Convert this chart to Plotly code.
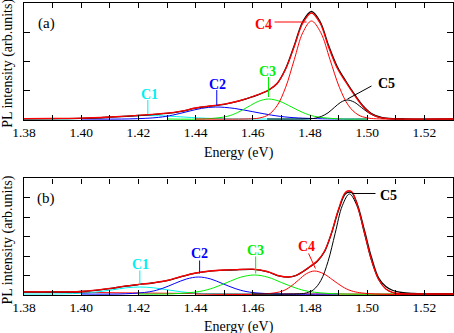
import plotly.graph_objects as go

# ---------------- data (heights in arbitrary units) ----------------
# panel (a)
E_C1_a = [1.380, 1.395, 1.405, 1.415, 1.423, 1.431, 1.441, 1.451, 1.480]
C1_a = [1.0, 1.2, 2.1, 3.8, 4.5, 3.8, 2.1, 1.2, 1.0]

E_C2_a = [1.400, 1.417, 1.427, 1.432, 1.437, 1.442, 1.447, 1.4535, 1.460, 1.4665, 1.473, 1.486, 1.500]
C2_a = [1.0, 1.1, 2.6, 4.9, 8.3, 11.6, 13.0, 11.6, 8.3, 4.9, 2.6, 1.1, 1.0]

E_C3_a = [1.430, 1.4439, 1.4511, 1.4547, 1.4583, 1.4619, 1.4655, 1.4695, 1.4735, 1.4775, 1.4815, 1.4895, 1.500]
C3_a = [1.0, 1.2, 3.7, 7.5, 13.1, 18.6, 21.0, 18.6, 13.1, 7.5, 3.7, 1.2, 1.0]

E_C4_a = [1.440, 1.4595, 1.4625, 1.4655, 1.4685, 1.4715, 1.4745, 1.4775, 1.4805,
          1.48375, 1.4870, 1.49025, 1.4935, 1.49675, 1.5000, 1.50325, 1.530]
C4_a = [1.0, 1.2, 2.1, 5.3, 14.3, 32.8, 60.4, 87.5, 99.0, 87.5, 60.4, 32.8, 14.3, 5.3, 2.1, 1.2, 1.0]

E_C5_a = [1.465, 1.4795, 1.4818, 1.484, 1.4863, 1.4885, 1.4908, 1.493, 1.4955, 1.498,
          1.5005, 1.503, 1.5055, 1.508, 1.513]
C5_a = [1.0, 1.2, 1.8, 3.6, 7.2, 12.5, 17.8, 20.0, 17.8, 12.5, 7.2, 3.6, 1.8, 1.2, 1.0]

E_tot_a = [1.380, 1.390, 1.400, 1.410, 1.420, 1.430, 1.435, 1.440, 1.445, 1.450, 1.455, 1.460,
           1.4655, 1.4685, 1.4715, 1.4745, 1.4775, 1.4805, 1.4835, 1.4865, 1.4895, 1.4925,
           1.4955, 1.4985, 1.5015, 1.505, 1.510, 1.530]
fit_a = [1.3, 1.5, 1.8, 3.0, 4.7, 6.8, 8.9, 12.0, 14.0, 15.8, 19.0, 23.5,
         30.0, 36.5, 51.0, 73.5, 97.0, 107.0, 97.0, 73.0, 52.0, 38.0,
         25.0, 13.5, 5.8, 2.1, 1.1, 1.0]
data_a = [1.2, 1.4, 1.6, 2.8, 4.5, 6.6, 8.7, 11.8, 13.8, 15.6, 18.8, 23.3,
          29.8, 36.5, 51.5, 74.5, 98.5, 108.5, 98.5, 74.5, 53.5, 39.0,
          26.0, 14.3, 6.5, 2.6, 1.3, 1.0]

# panel (b)
E_C1_b = [1.380, 1.392, 1.4015, 1.4063, 1.411, 1.4158, 1.4205, 1.4253, 1.430, 1.4348, 1.4395, 1.449, 1.470]
C1_b = [1.0, 1.08, 1.95, 3.3, 5.2, 7.2, 8.0, 7.2, 5.2, 3.3, 1.95, 1.08, 1.0]

E_C2_b = [1.400, 1.4155, 1.424, 1.4283, 1.4325, 1.4368, 1.441, 1.4453, 1.4495, 1.4538, 1.458, 1.4665, 1.490]
C2_b = [1.0, 1.2, 3.3, 6.5, 11.3, 16.0, 18.0, 16.0, 11.3, 6.5, 3.3, 1.2, 1.0]

E_C3_b = [1.420, 1.432, 1.4415, 1.4463, 1.451, 1.4558, 1.4605, 1.4653, 1.470, 1.4748, 1.4795, 1.489, 1.510]
C3_b = [1.0, 1.2, 3.6, 7.2, 12.5, 17.8, 20.0, 17.8, 12.5, 7.2, 3.6, 1.2, 1.0]

E_C4_b = [1.440, 1.465, 1.4705, 1.47325, 1.476, 1.47875, 1.4815, 1.48475, 1.488, 1.49125, 1.4945, 1.501, 1.530]
C4_b = [1.0, 1.26, 4.1, 8.5, 15.0, 21.3, 24.0, 21.3, 15.0, 8.5, 4.1, 1.26, 1.0]

E_C5_b = [1.460, 1.4763, 1.4788, 1.4813, 1.4838, 1.4863, 1.4888, 1.4913, 1.4938,
          1.4964, 1.499, 1.5016, 1.5042, 1.5068, 1.5094, 1.512, 1.530]
C5_b = [1.0, 1.22, 2.1, 5.4, 14.5, 33.5, 61.7, 89.3, 101.0, 89.3, 61.7, 33.5, 14.5, 5.4, 2.1, 1.22, 1.0]

E_bg_b = [1.380, 1.400, 1.420, 1.440, 1.460, 1.480, 1.530]
bg_b = [3.2, 2.6, 2.0, 1.5, 1.1, 1.0, 1.0]

E_tot_b = [1.380, 1.390, 1.400, 1.405, 1.410, 1.415, 1.420, 1.425, 1.430, 1.435, 1.440, 1.445,
           1.450, 1.455, 1.460, 1.465, 1.4695, 1.4725, 1.475, 1.4775, 1.480, 1.4825, 1.485,
           1.4875, 1.490, 1.4925, 1.4945, 1.4965, 1.499, 1.5015, 1.504, 1.5065, 1.509, 1.512,
           1.516, 1.520, 1.530]
fit_b = [3.2, 3.2, 3.7, 4.8, 6.6, 8.8, 10.6, 12.2, 14.5, 18.5, 22.0, 24.0,
         25.0, 25.5, 25.8, 23.5, 19.0, 18.0, 19.5, 23.5, 28.5, 34.0, 43.5,
         62.0, 86.0, 103.0, 103.5, 90.0, 63.0, 35.0, 15.5, 6.0, 2.5, 1.3,
         1.0, 1.0, 1.0]
data_b = [3.0, 3.0, 3.5, 4.6, 6.4, 8.6, 10.4, 12.0, 14.3, 18.3, 21.8, 23.8,
          24.8, 25.3, 25.6, 23.3, 18.8, 17.8, 19.3, 23.3, 28.3, 33.5, 43.0,
          61.5, 85.0, 101.5, 102.5, 91.0, 65.0, 37.5, 17.0, 8.5, 4.5, 2.5,
          1.5, 1.1, 1.0]

# ---------------- styling ----------------
CYAN, BLUE, GREEN, RED, BLACK = "#00F0F0", "#0000FF", "#00EE00", "#FF0000", "#000000"
SERIF = "Liberation Serif, Times New Roman, serif"

fig = go.Figure()


def add_line(x, y, color, width, xa, ya):
    fig.add_trace(go.Scatter(x=x, y=y, mode="lines", xaxis=xa, yaxis=ya,
                             line=dict(color=color, width=width, shape="spline", smoothing=1.0),
                             showlegend=False, hoverinfo="skip"))


for xa, ya, comps, tot in [
    ("x", "y",
     [(E_C1_a, C1_a, CYAN), (E_C2_a, C2_a, BLUE), (E_C3_a, C3_a, GREEN),
      (E_C4_a, C4_a, RED), (E_C5_a, C5_a, BLACK)],
     (E_tot_a, data_a, fit_a)),
    ("x2", "y2",
     [(E_bg_b, bg_b, RED), (E_C1_b, C1_b, CYAN), (E_C2_b, C2_b, BLUE), (E_C3_b, C3_b, GREEN),
      (E_C4_b, C4_b, RED), (E_C5_b, C5_b, BLACK)],
     (E_tot_b, data_b, fit_b)),
]:
    for ex, ey, col in comps:
        add_line(ex, ey, col, 1.0, xa, ya)
    add_line(tot[0], tot[1], BLACK, 1.3, xa, ya)
    add_line(tot[0], tot[2], RED, 1.3, xa, ya)

xa_common = dict(range=[1.38, 1.53], tick0=1.38, dtick=0.02, tickformat=".2f",
                 ticks="inside", ticklen=5, tickwidth=1, tickcolor="black",
                 minor=dict(dtick=0.01, ticklen=5, tickwidth=1, tickcolor="black", ticks="inside"),
                 showline=True, linecolor="black", linewidth=1.3, mirror="ticks",
                 showgrid=False, zeroline=False,
                 tickfont=dict(family=SERIF, size=13.5, color="black"))
ya_common = dict(ticks="inside", ticklen=6, tickwidth=1, tickcolor="black",
                 showticklabels=False, showline=True, linecolor="black", linewidth=1.3,
                 mirror="ticks", showgrid=False, zeroline=False)

H_TOP = 117.0
H_BOT = 116.5
fig.update_layout(
    width=454, height=333,
    margin=dict(l=24, r=1, t=3, b=38),
    paper_bgcolor="white", plot_bgcolor="white",
    xaxis=dict(domain=[0, 1], anchor="y", **xa_common),
    yaxis=dict(domain=[0.5993, 1.0], anchor="x", range=[0, H_TOP], tick0=0, dtick=29.25, **ya_common),
    xaxis2=dict(domain=[0, 1], anchor="y2", **xa_common),
    yaxis2=dict(domain=[0.0, 0.399], anchor="x2", range=[0, H_BOT], tick0=0, dtick=19.4, **ya_common),
)

ann = []
shapes = []


def label(text, x, y, color, xref, yref):
    ann.append(dict(text="<b>%s</b>" % text, x=x, y=y, xref=xref, yref=yref, showarrow=False,
                    font=dict(family=SERIF, size=14, color=color), xanchor="center", yanchor="middle"))


def leader(x0, y0, x1, y1, color, xref, yref):
    shapes.append(dict(type="line", x0=x0, y0=y0, x1=x1, y1=y1, xref=xref, yref=yref,
                       line=dict(color=color, width=1)))


# panel (a) labels
label("C1", 1.424, 26, CYAN, "x", "y");   leader(1.4233, 20, 1.4233, 6, CYAN, "x", "y")
label("C2", 1.4477, 36, BLUE, "x", "y");  leader(1.4474, 30, 1.4474, 15, BLUE, "x", "y")
label("C3", 1.4652, 49, GREEN, "x", "y"); leader(1.4655, 43, 1.4655, 23, GREEN, "x", "y")
label("C4", 1.4638, 96, RED, "x", "y");   leader(1.4676, 98, 1.4788, 98, RED, "x", "y")
label("C5", 1.5067, 37, BLACK, "x", "y"); leader(1.5015, 34, 1.4931, 21, BLACK, "x", "y")

# panel (b) labels
label("C1", 1.4208, 30.5, CYAN, "x2", "y2");   leader(1.4205, 24.5, 1.4205, 10.5, CYAN, "x2", "y2")
label("C2", 1.4414, 41.5, BLUE, "x2", "y2");   leader(1.4414, 34.5, 1.4414, 21.5, BLUE, "x2", "y2")
label("C3", 1.461, 44.5, GREEN, "x2", "y2");   leader(1.461, 38.5, 1.461, 21.5, GREEN, "x2", "y2")
label("C4", 1.4788, 48.5, RED, "x2", "y2");    leader(1.4795, 41.5, 1.4819, 26.5, RED, "x2", "y2")
label("C5", 1.5074, 99.5, BLACK, "x2", "y2");  leader(1.5029, 101.5, 1.4948, 101.5, BLACK, "x2", "y2")

# panel tags and axis titles
for txt, x, y in [("(a)", 0.0513, 0.931), ("(b)", 0.0513, 0.33)]:
    ann.append(dict(text=txt, x=x, y=y, xref="paper", yref="paper", showarrow=False,
                    font=dict(family=SERIF, size=15, color="black"), xanchor="center", yanchor="middle"))
for y in [0.488, -0.108]:
    ann.append(dict(text="Energy (eV)", x=0.5, y=y, xref="paper", yref="paper", showarrow=False,
                    font=dict(family=SERIF, size=14, color="black"), xanchor="center", yanchor="middle"))
for y in [0.792, 0.187]:
    ann.append(dict(text="PL intensity (arb.units)", x=-0.037, y=y, xref="paper", yref="paper",
                    showarrow=False, textangle=-90,
                    font=dict(family=SERIF, size=14, color="black"), xanchor="center", yanchor="middle"))

fig.update_layout(annotations=ann, shapes=shapes)
fig.write_html("out.html")
